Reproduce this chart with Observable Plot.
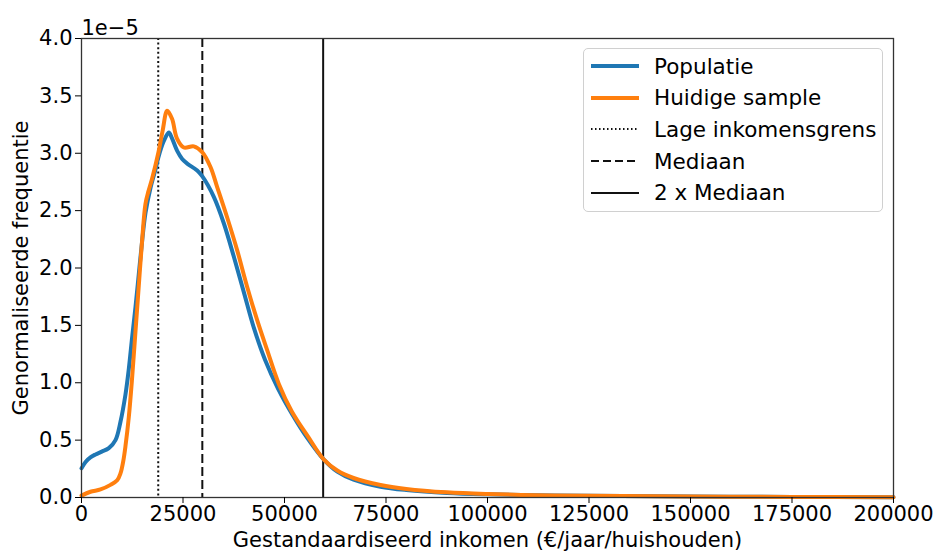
<!DOCTYPE html>
<html>
<head>
<meta charset="utf-8">
<script src="https://cdn.jsdelivr.net/npm/d3@7"></script>
<script src="https://cdn.jsdelivr.net/npm/@observablehq/plot@0.6"></script>
<style>
  html, body { margin: 0; padding: 0; background: #fff; }
  #wrap { position: relative; width: 938px; height: 551px; font-family: "DejaVu Sans", sans-serif; }
  #legend { position: absolute; left: 583px; top: 48px; width: 298px; height: 162px;
    border: 1px solid #d0d0d0; border-radius: 5px; background: rgba(255,255,255,0.85); }
  .row { position: absolute; left: 0; height: 30px; display: flex; align-items: center; font-size: 21.5px; color: #000; }
  .row svg { margin-left: 7px; margin-right: 15px; }
</style>
</head>
<body>
<div id="wrap"></div>
<script>
// Income (€/year/household) and normalised frequency (units of 1e-5)
const popX = [0, 1000, 2200, 3450, 5000, 6730, 8370, 9600, 10840, 11650, 12480, 13300, 14120, 14950, 15760, 17000, 18300, 18900, 20200, 21500, 22300, 23570, 24800, 26030, 28500, 29730, 32590, 35050, 37510, 39980, 42440, 45200, 48400, 52000, 55600, 59700, 63000, 67000, 73650, 80000, 90000, 100000, 112500, 125000, 150000, 175000, 200000];
const popY = [0.254, 0.31, 0.35, 0.375, 0.40, 0.43, 0.50, 0.66, 0.90, 1.12, 1.40, 1.66, 1.95, 2.24, 2.48, 2.70, 2.87, 2.96, 3.10, 3.18, 3.13, 3.02, 2.95, 2.91, 2.85, 2.80, 2.62, 2.39, 2.10, 1.79, 1.48, 1.20, 0.95, 0.72, 0.52, 0.33, 0.225, 0.155, 0.094, 0.065, 0.04, 0.028, 0.02, 0.015, 0.008, 0.005, 0.003];

const smpX = [0, 2200, 4680, 7140, 8790, 9600, 10300, 10840, 11650, 12480, 13300, 14120, 14950, 15760, 16500, 17400, 18900, 20000, 21100, 22300, 23500, 25200, 27660, 29720, 31770, 33420, 35880, 38350, 40810, 43270, 45730, 48600, 51800, 55800, 59700, 63000, 67000, 73650, 80000, 90000, 100000, 112500, 125000, 150000, 175000, 200000];
const smpY = [0.016, 0.05, 0.07, 0.11, 0.15, 0.21, 0.32, 0.45, 0.70, 1.05, 1.45, 1.85, 2.25, 2.56, 2.67, 2.78, 3.0, 3.2, 3.37, 3.30, 3.13, 3.05, 3.06, 3.01, 2.88, 2.705, 2.44, 2.154, 1.835, 1.545, 1.284, 0.99, 0.75, 0.53, 0.33, 0.235, 0.17, 0.109, 0.075, 0.045, 0.03, 0.02, 0.015, 0.008, 0.005, 0.003];

const refNames = ["Lage inkomensgrens", "Mediaan", "2 x Mediaan"];
const refValues = [18900, 29760, 59520];
const seriesNames = ["Populatie", "Huidige sample"];
const xTicks = [0, 25000, 50000, 75000, 100000, 125000, 150000, 175000, 200000];
const yTicks = [0, 0.5, 1.0, 1.5, 2.0, 2.5, 3.0, 3.5, 4.0];
const xLabel = "Gestandaardiseerd inkomen (€/jaar/huishouden)";
const yLabel = "Genormaliseerde frequentie";
const offsetLabel = "1e\u22125";

const colors = ["#1f77b4", "#ff7f0e"];
const dashes = ["2,2.6", "9,4", null];

const pop = popX.map((x, i) => ({x, y: popY[i]}));
const smp = smpX.map((x, i) => ({x, y: smpY[i]}));

const chart = Plot.plot({
  width: 938,
  height: 551,
  marginLeft: 81,
  marginRight: 45,
  marginTop: 38,
  marginBottom: 54,
  style: {fontFamily: "DejaVu Sans, sans-serif", fontSize: "21px", color: "#000", background: "#fff"},
  x: {domain: [0, 200000]},
  y: {domain: [0, 4.0]},
  marks: [
    ...refValues.map((v, i) => Plot.ruleX([v], {stroke: "#111", strokeWidth: 2, strokeDasharray: dashes[i]})),
    Plot.line(pop, {x: "x", y: "y", stroke: colors[0], strokeWidth: 4, curve: "catmull-rom"}),
    Plot.line(smp, {x: "x", y: "y", stroke: colors[1], strokeWidth: 4, curve: "catmull-rom"}),
    Plot.frame({stroke: "#333", strokeWidth: 1.3}),
    Plot.axisX({ticks: xTicks, tickFormat: d => String(d), tickSize: 6, tickPadding: 3, label: null, fontSize: 21}),
    Plot.axisY({ticks: yTicks, tickFormat: d3.format(".1f"), tickSize: 6, tickPadding: 3, label: null, fontSize: 21}),
    Plot.text([xLabel], {frameAnchor: "bottom", textAnchor: "middle", dy: 49, fontSize: 21, fill: "#000"}),
    Plot.text([yLabel], {frameAnchor: "left", textAnchor: "middle", lineAnchor: "middle", dx: -60, rotate: -90, fontSize: 21, fill: "#000"}),
    Plot.text([offsetLabel], {frameAnchor: "top-left", textAnchor: "start", lineAnchor: "bottom", dy: -4, dx: 0, fontSize: 21, fill: "#000"})
  ]
});

const wrap = document.getElementById("wrap");
wrap.appendChild(chart);

// Legend
const legend = document.createElement("div");
legend.id = "legend";
const entries = [
  {name: seriesNames[0], color: colors[0], w: 4, dash: null},
  {name: seriesNames[1], color: colors[1], w: 4, dash: null},
  {name: refNames[0], color: "#111", w: 1.8, dash: "1.5,2.5"},
  {name: refNames[1], color: "#111", w: 2, dash: "8,4"},
  {name: refNames[2], color: "#111", w: 2, dash: null}
];
entries.forEach((e, i) => {
  const row = document.createElement("div");
  row.className = "row";
  row.style.top = (2 + i * 31.7) + "px";
  const s = d3.create("svg").attr("width", 48).attr("height", 10);
  s.append("line").attr("x1", 0).attr("x2", 48).attr("y1", 5).attr("y2", 5)
    .attr("stroke", e.color).attr("stroke-width", e.w)
    .attr("stroke-dasharray", e.dash);
  row.appendChild(s.node());
  const t = document.createElement("span");
  t.textContent = e.name;
  row.appendChild(t);
  legend.appendChild(row);
});
wrap.appendChild(legend);
</script>
</body>
</html>
